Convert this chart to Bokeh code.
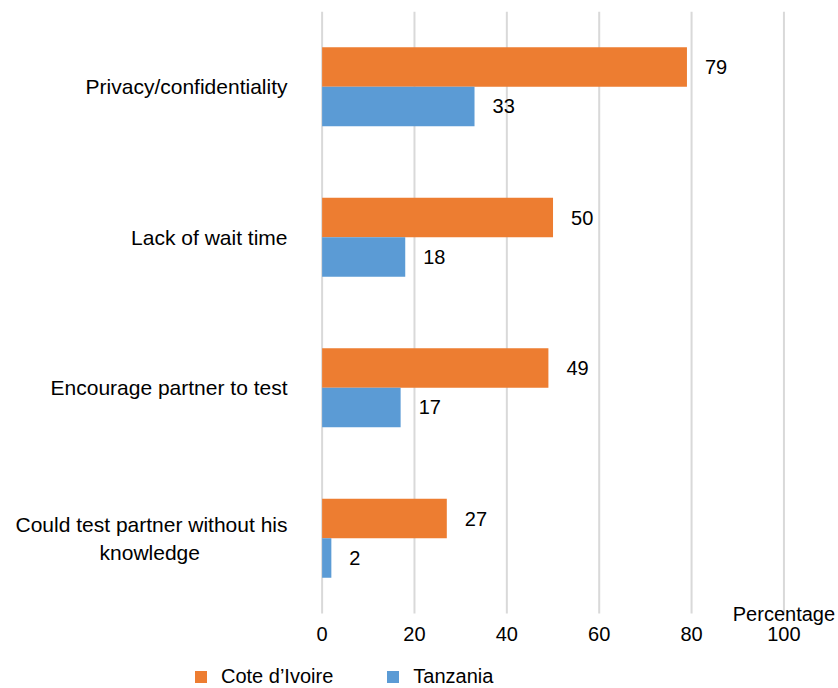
from bokeh.plotting import figure
from bokeh.layouts import column
from bokeh.models import Range1d, FixedTicker, Label, Legend, LegendItem, ColumnDataSource
from bokeh.transform import dodge
from bokeh.embed import file_html
from bokeh.resources import INLINE
from bokeh.core.properties import value

categories = ["Privacy/confidentiality", "Lack of wait time", "Encourage partner to test",
              "Could test partner without his\nknowledge" + "\u00a0" * 15]
cote = [79, 50, 49, 27]
tanzania = [33, 18, 17, 2]
series_names = ["Cote d\u2019Ivoire", "Tanzania"]
x_ticks = [0, 20, 40, 60, 80, 100]

FONT = "Liberation Sans"
ORANGE = "#ED7D31"
BLUE = "#5B9BD5"

n = len(categories)
ypos = [n - 1 - i for i in range(n)]  # top to bottom
src = ColumnDataSource(dict(y=ypos, cote=cote, tanzania=tanzania,
                            cote_lbl=[str(v) for v in cote],
                            tan_lbl=[str(v) for v in tanzania]))
grid_src = ColumnDataSource(dict(x=x_ticks, y0=[-0.5] * len(x_ticks), y1=[n - 0.5] * len(x_ticks)))

ext = 13 / 150.5
p = figure(frame_width=520, frame_height=615, min_border_left=317, min_border_right=1,
           min_border_top=11, min_border_bottom=24,
           x_range=Range1d(-1, 111.6), y_range=Range1d(-0.5 - ext, n - 0.5),
           output_backend="svg", toolbar_location=None)
p.outline_line_color = None
p.background_fill_color = "white"
p.border_fill_color = "white"

p.segment(x0="x", y0="y0", x1="x", y1="y1", source=grid_src, line_color="#d9d9d9", line_width=2)

bh = 0.262
r1 = p.hbar(y=dodge("y", bh / 2, range=p.y_range), left=0, right="cote", height=bh,
            source=src, fill_color=ORANGE, line_color=None)
r2 = p.hbar(y=dodge("y", -bh / 2, range=p.y_range), left=0, right="tanzania", height=bh,
            source=src, fill_color=BLUE, line_color=None)

p.text(x="cote", y=dodge("y", bh / 2, range=p.y_range), text="cote_lbl", source=src,
       x_offset=18, text_align="left", text_baseline="middle",
       text_font=value(FONT), text_font_size="20px", text_color="black")
p.text(x="tanzania", y=dodge("y", -bh / 2, range=p.y_range), text="tan_lbl", source=src,
       x_offset=18, text_align="left", text_baseline="middle",
       text_font=value(FONT), text_font_size="20px", text_color="black")

# axes
p.xaxis.ticker = FixedTicker(ticks=x_ticks)
p.xaxis.axis_line_color = None
p.xaxis.major_tick_line_color = None
p.xaxis.minor_tick_line_color = None
p.xaxis.major_tick_out = 0
p.xaxis.major_tick_in = 0
p.xaxis.major_label_standoff = 0
p.xaxis.major_label_text_font = FONT
p.xaxis.major_label_text_font_size = "20px"
p.xaxis.major_label_text_color = "black"

p.yaxis.ticker = FixedTicker(ticks=ypos)
p.yaxis.major_label_overrides = {y: c for y, c in zip(ypos, categories)}
p.yaxis.axis_line_color = None
p.yaxis.major_tick_line_color = None
p.yaxis.minor_tick_line_color = None
p.yaxis.major_tick_out = 0
p.yaxis.major_tick_in = 0
p.yaxis.major_label_standoff = 30
p.yaxis.major_label_text_font = FONT
p.yaxis.major_label_text_font_size = "21px"
p.yaxis.major_label_text_color = "black"

p.xgrid.grid_line_color = None
p.ygrid.grid_line_color = None

p.add_layout(Label(x=100, y=-0.5, text="Percentage", text_align="center",
                   text_baseline="middle", text_font=FONT, text_font_size="20px",
                   text_color="black"))

# legend strip (separate figure below the chart); its bars lie outside its visible range
p2 = figure(frame_width=838, frame_height=38, min_border=0,
            x_range=Range1d(-2000, -1162), y_range=Range1d(100, 138),
            output_backend="svg", toolbar_location=None,
            x_axis_location=None, y_axis_location=None)
p2.outline_line_color = None
p2.xgrid.grid_line_color = None
p2.ygrid.grid_line_color = None
l1 = p2.hbar(y="y", left=0, right="cote", height=bh, source=src,
             fill_color=ORANGE, line_color=None)
l2 = p2.hbar(y="y", left=0, right="tanzania", height=bh, source=src,
             fill_color=BLUE, line_color=None)

legend = Legend(items=[LegendItem(label=series_names[0], renderers=[l1]),
                       LegendItem(label=series_names[1], renderers=[l2])],
                orientation="horizontal", location=(193, 0),
                glyph_width=15, glyph_height=15, label_standoff=13, spacing=52,
                label_height=15,
                padding=0, margin=0, border_line_color=None, background_fill_alpha=0,
                label_text_font=FONT, label_text_font_size="20px", label_text_color="black")
p2.add_layout(legend)

layout = column(p, p2, spacing=0)
open("out.html", "w").write(file_html(layout, INLINE))
